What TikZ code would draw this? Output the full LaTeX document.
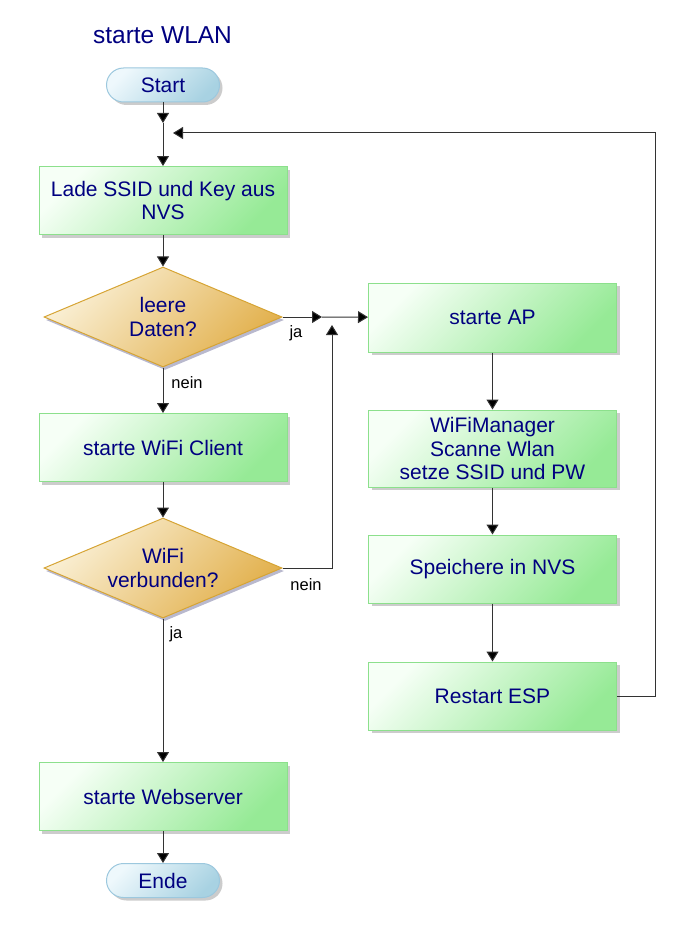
\documentclass[tikz,border=0pt]{standalone}
\usepackage{fontspec}
\setmainfont{Liberation Sans}
\usepackage{xcolor}
\usetikzlibrary{shapes.geometric,arrows.meta,positioning,shadows}
\definecolor{txtblue}{RGB}{0,0,128}
\definecolor{boxlo}{RGB}{246,255,246}
\definecolor{boxhi}{RGB}{150,234,150}
\definecolor{boxrim}{RGB}{140,224,140}
\definecolor{decilo}{RGB}{250,240,214}
\definecolor{decihi}{RGB}{226,176,76}
\definecolor{decirim}{RGB}{214,164,52}
\definecolor{termlo}{RGB}{238,248,252}
\definecolor{termhi}{RGB}{168,210,226}
\definecolor{termrim}{RGB}{156,200,222}
\newcommand{\bodyfont}{\fontsize{21}{23.5}\selectfont}

\begin{document}
\begin{tikzpicture}[x=1pt, y=-1pt,
    every node/.style={text=txtblue, font=\bodyfont, align=center},
    procbox/.style={rectangle, draw=boxrim, line width=1pt,
        top color=boxlo, bottom color=boxhi, shading angle=45,
        minimum width=248pt, minimum height=68pt, inner sep=2pt,
        drop shadow={shadow xshift=3pt, shadow yshift=-3pt, fill=black!40}},
    decision/.style={diamond, aspect=2.38, draw=decirim, line width=1pt,
        top color=decilo, bottom color=decihi, shading angle=45,
        minimum width=238pt, minimum height=100pt, inner sep=0pt,
        drop shadow={shadow xshift=2pt, shadow yshift=-3pt, fill=blue!30!black!55}},
    terminal/.style={rectangle, rounded corners=17pt, draw=termrim, line width=1pt,
        top color=termlo, bottom color=termhi, shading angle=45,
        minimum width=113pt, minimum height=34pt, inner sep=0pt,
        drop shadow={shadow xshift=3pt, shadow yshift=-3pt, fill=black!40}},
    lab/.style={text=black, font=\fontsize{16.5}{18}\selectfont},
    flow/.style={draw=black!80, line width=1pt, -{Triangle[length=10pt, width=12pt, fill=black]}},
    line/.style={draw=black!80, line width=1pt}]
\useasboundingbox (0,0) rectangle (687,931);

% Title
\node[font=\fontsize{24.5}{26}\selectfont] (title) at (162.5,35) {starte WLAN};

% Left column
\node[terminal] (start) at (163,85) {Start};
\node[procbox] (load) at (163,200.5) {Lade SSID und Key aus\\NVS};
\node[decision] (empty) at (163,317) {leere\\Daten?};
\node[procbox] (client) at (163,447.5) {starte WiFi Client};
\node[decision] (wifi) at (163,568) {WiFi\\verbunden?};
\node[procbox] (web) at (163,796.5) {starte Webserver};
\node[terminal] (ende) at (163,880.5) {Ende};

% Right column
\node[procbox, minimum height=69pt] (ap) at (492.5,317.5) {starte AP};
\node[procbox, minimum height=77pt] (mgr) at (492.5,448.5) {WiFiManager\\Scanne Wlan\\setze SSID und PW};
\node[procbox] (save) at (492.5,569) {Speichere in NVS};
\node[procbox] (restart) at (492.5,696) {Restart ESP};

% Junctions
\coordinate (j1in) at (163,123);
\coordinate (j1) at (163,133);
\coordinate (j1r) at (173,133);
\coordinate (j2) at (332,317);
\coordinate (j2l) at (322,317);
\coordinate (j2b) at (332,325);
\coordinate (loopT) at (655,133);

% Connectors
\draw[flow] (start) -- (j1in);
\draw[flow] (j1in) -- (load);
\draw[flow] (load) -- (empty);
\draw[flow] (empty) -- (client);
\draw[flow] (client) -- (wifi);
\draw[flow] (wifi) -- (web);
\draw[flow] (web) -- (ende);
\draw[flow] (empty.east) -- (j2l);
\draw[flow] (j2l) -- (ap);
\draw[flow] (wifi.east) -| (j2b);
\draw[flow] (ap) -- (mgr);
\draw[flow] (mgr) -- (save);
\draw[flow] (save) -- (restart);
\draw[flow] (restart.east) -| (loopT) -- (j1r);

% Labels
\node[lab] (jaA) at (296,333) {ja};
\node[lab] (neinA) at (187,383) {nein};
\node[lab] (neinB) at (306,585) {nein};
\node[lab] (jaB) at (176,634) {ja};
\end{tikzpicture}
\end{document}
